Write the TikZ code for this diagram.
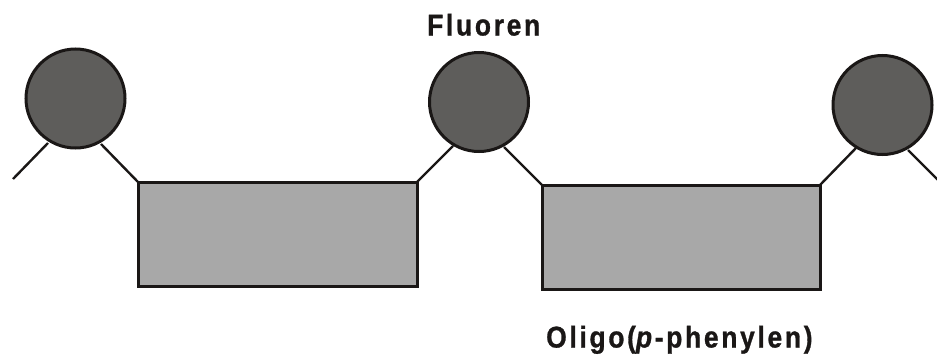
\documentclass[tikz,border=0pt]{standalone}
\usepackage{fontspec}
\setmainfont{Liberation Sans}
\newfontfamily\lblfont[FakeStretch=0.88,LetterSpace=9,FakeBold=1]{Liberation Sans}
\definecolor{ballfill}{HTML}{5E5D5B}
\definecolor{boxfill}{HTML}{A8A8A8}
\definecolor{ink}{HTML}{1A1716}
\tikzset{
  ball/.style={circle,draw=ink,fill=ballfill,line width=3pt,minimum size=99pt,inner sep=0pt,outer sep=0pt},
  block/.style={draw=ink,fill=boxfill,line width=3pt,inner sep=0pt,outer sep=0pt},
  link/.style={draw=ink,line width=2.4pt},
  lbl/.style={font=\lblfont\fontsize{30}{33}\selectfont\bfseries,text=ink,inner sep=0pt}
}
\begin{document}
\begin{tikzpicture}[x=1pt,y=-1pt]
\useasboundingbox (0,0) rectangle (937,356);
% attachment points
\coordinate (l0) at (13,179);
\coordinate (c1l) at (48,143);
\coordinate (c1r) at (101,144);
\coordinate (c2l) at (453,146);
\coordinate (c2r) at (504,147);
\coordinate (c3l) at (856,148);
\coordinate (c3r) at (908,150);
\coordinate (r0) at (940,182);
% blocks
\node[block,minimum width=279pt,minimum height=104pt,anchor=north west] (b1) at (138,182) {};
\node[block,minimum width=278pt,minimum height=104pt,anchor=north west] (b2) at (542,185) {};
% connectors
\draw[link] (l0) -- (c1l);
\draw[link] (c1r) -- (b1.north west);
\draw[link] (b1.north east) -- (c2l);
\draw[link] (c2r) -- (b2.north west);
\draw[link] (b2.north east) -- (c3l);
\draw[link] (c3r) -- (r0);
% balls
\node[ball] (c1) at (75.5,98.5) {};
\node[ball] (c2) at (479,102) {};
\node[ball] (c3) at (882.5,105) {};
% labels
\node[lbl,anchor=base west] (fl) at (427,35.5) {Fluoren};
\node[lbl,anchor=base west] (op) at (546,347.5) {Oligo(\textit{p}-phenylen)};
\end{tikzpicture}
\end{document}
